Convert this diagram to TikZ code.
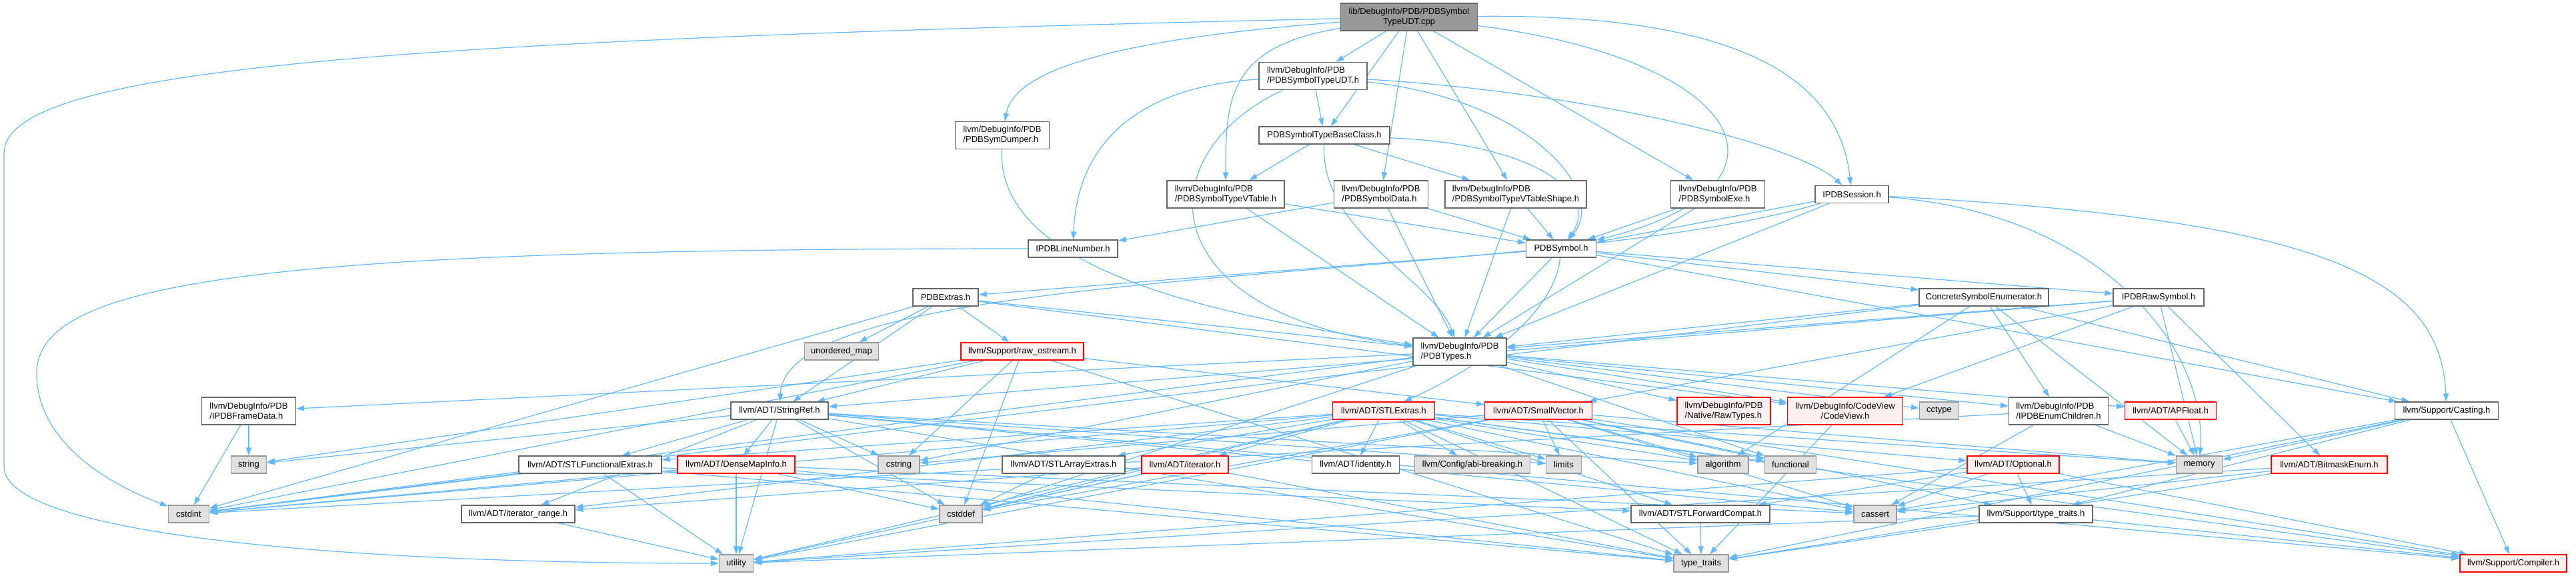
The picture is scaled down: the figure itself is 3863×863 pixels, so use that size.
\documentclass[tikz,border=0pt]{standalone}
\usepackage{fontspec}
\setmainfont{Liberation Sans}
\usetikzlibrary{arrows.meta}
\pgfdeclarelayer{edges}
\pgfsetlayers{edges,main}
\definecolor{edgeblue}{HTML}{63B8FF}
\definecolor{nodeline}{HTML}{666666}
\definecolor{sysline}{HTML}{999999}
\definecolor{sysfill}{HTML}{E0E0E0}
\definecolor{cutfill}{HTML}{FFF0F0}
\definecolor{rootfill}{HTML}{999999}

\begin{document}
\begin{tikzpicture}[
  x=1pt, y=-1pt,
  hdr/.style={draw=nodeline, fill=white, line width=1.3pt, align=left, inner sep=0pt,
    minimum height=26pt, font=\fontsize{13}{15}\selectfont},
  two/.style={minimum height=41pt},
  sys/.style={hdr, draw=sysline, fill=sysfill},
  trunc/.style={hdr, draw=red, fill=cutfill},
  rootbox/.style={hdr, fill=rootfill, align=center},
  dep/.style={draw=edgeblue, line width=1.2pt, -{Triangle[length=12pt, width=8pt]}}
]
\useasboundingbox (0,0) rectangle (3863,863);

\node[rootbox, two, minimum width=205pt] (root) at (2113,25.5) {lib/DebugInfo/PDB/PDBSymbol\\TypeUDT.cpp};
\node[hdr, two, minimum width=162pt] (udt) at (1969,114) {llvm/DebugInfo/PDB\\/PDBSymbolTypeUDT.h};
\node[hdr, two, minimum width=141pt] (dumper) at (1503,203) {llvm/DebugInfo/PDB\\/PDBSymDumper.h};
\node[hdr, minimum width=196pt] (baseclass) at (1986,203) {PDBSymbolTypeBaseClass.h};
\node[hdr, two, minimum width=176pt] (vtable) at (1838,291.5) {llvm/DebugInfo/PDB\\/PDBSymbolTypeVTable.h};
\node[hdr, two, minimum width=141pt] (data) at (2071,291.5) {llvm/DebugInfo/PDB\\/PDBSymbolData.h};
\node[hdr, two, minimum width=212pt] (vtshape) at (2273,291.5) {llvm/DebugInfo/PDB\\/PDBSymbolTypeVTableShape.h};
\node[hdr, two, minimum width=141pt] (exe) at (2576,291.5) {llvm/DebugInfo/PDB\\/PDBSymbolExe.h};
\node[hdr, minimum width=110pt] (session) at (2777,291.5) {IPDBSession.h};
\node[hdr, minimum width=134pt] (linenum) at (1609,373) {IPDBLineNumber.h};
\node[hdr, minimum width=105pt] (symbol) at (2341,373) {PDBSymbol.h};
\node[hdr, minimum width=98pt] (extras) at (1418,446) {PDBExtras.h};
\node[hdr, minimum width=194pt] (concrete) at (2975,446) {ConcreteSymbolEnumerator.h};
\node[hdr, minimum width=136pt] (rawsym) at (3237,446) {IPDBRawSymbol.h};
\node[sys, minimum width=111pt] (umap) at (1262,527) {unordered\_map};
\node[trunc, minimum width=184pt] (rawos) at (1533,527) {llvm/Support/raw\_ostream.h};
\node[hdr, two, minimum width=140pt] (types) at (2189,527.5) {llvm/DebugInfo/PDB\\/PDBTypes.h};
\node[hdr, two, minimum width=141pt] (framedata) at (373,616.5) {llvm/DebugInfo/PDB\\/IPDBFrameData.h};
\node[hdr, minimum width=146pt] (stringref) at (1169,616) {llvm/ADT/StringRef.h};
\node[trunc, minimum width=153pt] (stlextras) at (2075,616) {llvm/ADT/STLExtras.h};
\node[trunc, minimum width=161pt] (smallvec) at (2307,616) {llvm/ADT/SmallVector.h};
\node[trunc, two, minimum width=140pt] (rawtypes) at (2585,616.5) {llvm/DebugInfo/PDB\\/Native/RawTypes.h};
\node[trunc, two, align=center, minimum width=173pt] (codeview) at (2767,616.5) {llvm/DebugInfo/CodeView\\/CodeView.h};
\node[sys, minimum width=59pt] (cctype) at (2908,616) {cctype};
\node[hdr, two, minimum width=149pt] (enumchildren) at (3087,616.5) {llvm/DebugInfo/PDB\\/IPDBEnumChildren.h};
\node[trunc, minimum width=137pt] (apfloat) at (3255,616) {llvm/ADT/APFloat.h};
\node[hdr, minimum width=155pt] (casting) at (3669,616) {llvm/Support/Casting.h};
\node[sys, minimum width=53pt] (string) at (373,697) {string};
\node[hdr, minimum width=214pt] (funcext) at (885,697) {llvm/ADT/STLFunctionalExtras.h};
\node[trunc, minimum width=176pt] (densemap) at (1104,697) {llvm/ADT/DenseMapInfo.h};
\node[sys, minimum width=62pt] (cstring) at (1348,697) {cstring};
\node[hdr, minimum width=184pt] (arrayext) at (1595,697) {llvm/ADT/STLArrayExtras.h};
\node[trunc, minimum width=130pt] (iterator) at (1777,697) {llvm/ADT/iterator.h};
\node[hdr, minimum width=131pt] (identity) at (2033,697) {llvm/ADT/identity.h};
\node[sys, minimum width=173pt] (abi) at (2208,697) {llvm/Config/abi-breaking.h};
\node[sys, minimum width=53pt] (limits) at (2345,697) {limits};
\node[sys, minimum width=76pt] (algorithm) at (2584,697) {algorithm};
\node[sys, minimum width=77pt] (functional) at (2685,697) {functional};
\node[trunc, minimum width=138pt] (optional) at (3019,697) {llvm/ADT/Optional.h};
\node[sys, minimum width=69pt] (memory) at (3298,697) {memory};
\node[trunc, minimum width=174pt] (bitmask) at (3493,697) {llvm/ADT/BitmaskEnum.h};
\node[sys, minimum width=61pt] (cstdint) at (283,771) {cstdint};
\node[hdr, minimum width=170pt] (itrange) at (777,771) {llvm/ADT/iterator\_range.h};
\node[sys, minimum width=64pt] (cstddef) at (1441,771) {cstddef};
\node[hdr, minimum width=208pt] (fwdcompat) at (2550,771) {llvm/ADT/STLForwardCompat.h};
\node[sys, minimum width=64pt] (cassert) at (2812,771) {cassert};
\node[hdr, minimum width=170pt] (sttraits) at (3053,771) {llvm/Support/type\_traits.h};
\node[sys, minimum width=51pt] (utility) at (1104,845) {utility};
\node[sys, minimum width=82pt] (traits) at (2551,845) {type\_traits};
\node[trunc, minimum width=160pt] (compiler) at (3769,845) {llvm/Support/Compiler.h};

\begin{pgfonlayer}{edges}
\draw[dep] (root) .. controls (600,60) and (6,100) .. (6,230) -- (6,700) .. controls (6,800) and (500,845) .. (utility);
\draw[dep] (root) .. controls (1650,60) and (1520,110) .. (dumper);
\draw[dep] (root) .. controls (1840,70) and (1838,150) .. (vtable);
\draw[dep] (root) -- (udt);
\draw[dep] (root) -- (baseclass);
\draw[dep] (root) -- (data);
\draw[dep] (root) -- (vtshape);
\draw[dep] (root) -- (exe);
\draw[dep] (root) .. controls (2650,20) and (2760,140) .. (session);
\draw[dep] (root) .. controls (2620,90) and (2720,280) .. (symbol);
\draw[dep] (udt) .. controls (1700,130) and (1615,220) .. (linenum);
\draw[dep] (udt) .. controls (1720,230) and (1720,470) .. (types);
\draw[dep] (udt) -- (baseclass);
\draw[dep] (udt) .. controls (2300,150) and (2410,290) .. (symbol);
\draw[dep] (udt) .. controls (2400,140) and (2700,220) .. (session);
\draw[dep] (dumper) .. controls (1495,400) and (1800,470) .. (types);
\draw[dep] (baseclass) -- (vtable);
\draw[dep] (baseclass) -- (vtshape);
\draw[dep] (baseclass) .. controls (2300,215) and (2400,290) .. (symbol);
\draw[dep] (baseclass) .. controls (1980,350) and (2150,420) .. (types);
\draw[dep] (vtable) -- (symbol);
\draw[dep] (vtable) -- (types);
\draw[dep] (data) -- (linenum);
\draw[dep] (data) -- (symbol);
\draw[dep] (data) -- (types);
\draw[dep] (vtshape) -- (symbol);
\draw[dep] (vtshape) -- (types);
\draw[dep] (exe) -- (symbol);
\draw[dep] (exe) -- (types);
\draw[dep] (session) -- (symbol);
\draw[dep] (session) -- (types);
\draw[dep] (session) .. controls (2300,430) and (1180,390) .. (stringref);
\draw[dep] (session) .. controls (3500,330) and (3660,420) .. (casting);
\draw[dep] (session) .. controls (3150,320) and (3310,520) .. (memory);
\draw[dep] (linenum) .. controls (400,373) and (55,420) .. (55,560) .. controls (55,680) and (200,740) .. (cstdint);
\draw[dep] (symbol) -- (extras);
\draw[dep] (symbol) -- (types);
\draw[dep] (symbol) .. controls (2330,480) and (2200,560) .. (stlextras);
\draw[dep] (symbol) -- (casting);
\draw[dep] (symbol) -- (concrete);
\draw[dep] (symbol) -- (rawsym);
\draw[dep] (extras) -- (umap);
\draw[dep] (extras) -- (rawos);
\draw[dep] (extras) -- (types);
\draw[dep] (extras) -- (codeview);
\draw[dep] (extras) -- (stringref);
\draw[dep] (extras) -- (cstdint);
\draw[dep] (concrete) -- (enumchildren);
\draw[dep] (concrete) -- (types);
\draw[dep] (concrete) -- (casting);
\draw[dep] (concrete) -- (memory);
\draw[dep] (concrete) -- (cstdint);
\draw[dep] (concrete) -- (algorithm);
\draw[dep] (rawsym) -- (types);
\draw[dep] (rawsym) -- (bitmask);
\draw[dep] (rawsym) -- (smallvec);
\draw[dep] (rawsym) -- (stringref);
\draw[dep] (rawsym) -- (codeview);
\draw[dep] (rawsym) -- (memory);
\draw[dep] (rawos) -- (stringref);
\draw[dep] (rawos) -- (smallvec);
\draw[dep] (rawos) -- (cstring);
\draw[dep] (rawos) -- (cstdint);
\draw[dep] (rawos) -- (cstddef);
\draw[dep] (rawos) -- (string);
\draw[dep] (rawos) -- (traits);
\draw[dep] (types) -- (apfloat);
\draw[dep] (types) -- (codeview);
\draw[dep] (types) -- (enumchildren);
\draw[dep] (types) -- (framedata);
\draw[dep] (types) -- (rawtypes);
\draw[dep] (types) -- (cctype);
\draw[dep] (types) -- (cstddef);
\draw[dep] (types) -- (cstdint);
\draw[dep] (types) -- (cstring);
\draw[dep] (types) -- (functional);
\draw[dep] (framedata) -- (cstdint);
\draw[dep] (framedata) -- (string);
\draw[dep] (stringref) -- (funcext);
\draw[dep] (stringref) -- (densemap);
\draw[dep] (stringref) -- (itrange);
\draw[dep] (stringref) -- (compiler);
\draw[dep] (stringref) -- (algorithm);
\draw[dep] (stringref) -- (cassert);
\draw[dep] (stringref) -- (cstddef);
\draw[dep] (stringref) -- (cstring);
\draw[dep] (stringref) -- (limits);
\draw[dep] (stringref) -- (string);
\draw[dep] (stringref) -- (traits);
\draw[dep] (stringref) -- (utility);
\draw[dep] (stlextras) -- (arrayext);
\draw[dep] (stlextras) -- (fwdcompat);
\draw[dep] (stlextras) -- (funcext);
\draw[dep] (stlextras) -- (identity);
\draw[dep] (stlextras) -- (iterator);
\draw[dep] (stlextras) -- (itrange);
\draw[dep] (stlextras) -- (optional);
\draw[dep] (stlextras) -- (abi);
\draw[dep] (stlextras) -- (compiler);
\draw[dep] (stlextras) -- (algorithm);
\draw[dep] (stlextras) -- (cassert);
\draw[dep] (stlextras) -- (cstddef);
\draw[dep] (stlextras) -- (cstdint);
\draw[dep] (stlextras) -- (functional);
\draw[dep] (stlextras) -- (limits);
\draw[dep] (stlextras) -- (memory);
\draw[dep] (stlextras) -- (traits);
\draw[dep] (stlextras) -- (utility);
\draw[dep] (smallvec) -- (compiler);
\draw[dep] (smallvec) -- (sttraits);
\draw[dep] (smallvec) -- (algorithm);
\draw[dep] (smallvec) -- (cassert);
\draw[dep] (smallvec) -- (cstddef);
\draw[dep] (smallvec) -- (cstring);
\draw[dep] (smallvec) -- (functional);
\draw[dep] (smallvec) -- (limits);
\draw[dep] (smallvec) -- (memory);
\draw[dep] (smallvec) -- (traits);
\draw[dep] (smallvec) -- (utility);
\draw[dep] (codeview) -- (traits);
\draw[dep] (enumchildren) -- (cassert);
\draw[dep] (enumchildren) -- (cstdint);
\draw[dep] (enumchildren) -- (memory);
\draw[dep] (apfloat) -- (memory);
\draw[dep] (casting) -- (compiler);
\draw[dep] (casting) -- (sttraits);
\draw[dep] (casting) -- (cassert);
\draw[dep] (casting) -- (memory);
\draw[dep] (casting) -- (traits);
\draw[dep] (funcext) -- (fwdcompat);
\draw[dep] (funcext) -- (cstdint);
\draw[dep] (funcext) -- (traits);
\draw[dep] (funcext) -- (utility);
\draw[dep] (densemap) -- (cassert);
\draw[dep] (densemap) -- (cstddef);
\draw[dep] (densemap) -- (cstdint);
\draw[dep] (densemap) -- (traits);
\draw[dep] (densemap) -- (utility);
\draw[dep] (arrayext) -- (cstddef);
\draw[dep] (iterator) -- (itrange);
\draw[dep] (iterator) -- (cstddef);
\draw[dep] (iterator) -- (traits);
\draw[dep] (iterator) -- (utility);
\draw[dep] (optional) -- (fwdcompat);
\draw[dep] (optional) -- (compiler);
\draw[dep] (optional) -- (sttraits);
\draw[dep] (optional) -- (cassert);
\draw[dep] (optional) -- (utility);
\draw[dep] (bitmask) -- (cassert);
\draw[dep] (bitmask) -- (traits);
\draw[dep] (bitmask) -- (utility);
\draw[dep] (itrange) -- (utility);
\draw[dep] (fwdcompat) -- (traits);
\draw[dep] (sttraits) -- (traits);
\draw[dep] (sttraits) -- (compiler);
\draw[dep] (sttraits) -- (utility);
\end{pgfonlayer}
\end{tikzpicture}
\end{document}
